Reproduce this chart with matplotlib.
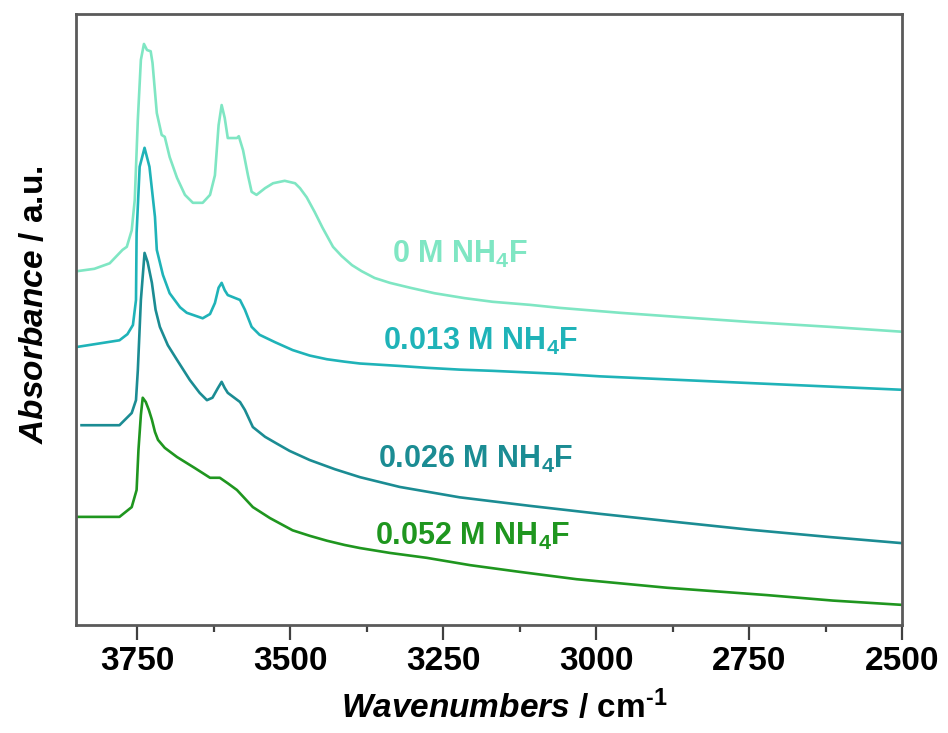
import numpy as np
import matplotlib
matplotlib.use('Agg')
import matplotlib.pyplot as plt
from matplotlib.ticker import MultipleLocator

matplotlib.rcParams['font.family'] = 'Liberation Sans'
matplotlib.rcParams['font.weight'] = 'bold'
matplotlib.rcParams['mathtext.fontset'] = 'custom'
matplotlib.rcParams['mathtext.rm'] = 'Liberation Sans:bold'
matplotlib.rcParams['mathtext.bf'] = 'Liberation Sans:bold'
matplotlib.rcParams['mathtext.it'] = 'Liberation Sans:italic:bold'
matplotlib.rcParams['mathtext.default'] = 'bf'

#---------------------------------------------------------------------------------------#
# spectra (wavenumber in cm-1, absorbance in a.u.)
wn_0 = [3849, 3820, 3795, 3774, 3767, 3759, 3754, 3749, 3744, 3739, 3734, 3728, 3725,
        3718, 3710, 3705, 3697, 3685, 3672, 3659, 3643, 3631, 3623, 3617, 3612, 3607,
        3602, 3587, 3584, 3577, 3569, 3563, 3555, 3541, 3528, 3509, 3492, 3484, 3473,
        3460, 3447, 3430, 3416, 3399, 3383, 3362, 3337, 3304, 3264, 3215, 3169, 3108,
        3059, 2961, 2863, 2749, 2618, 2500]
abs_0 = [0.579, 0.583, 0.592, 0.614, 0.619, 0.646, 0.696, 0.827, 0.925, 0.951, 0.941,
         0.939, 0.920, 0.838, 0.802, 0.799, 0.766, 0.732, 0.704, 0.691, 0.691, 0.704,
         0.736, 0.818, 0.851, 0.830, 0.797, 0.797, 0.800, 0.777, 0.736, 0.709, 0.704,
         0.715, 0.723, 0.727, 0.723, 0.715, 0.700, 0.676, 0.650, 0.619, 0.604, 0.589,
         0.579, 0.568, 0.560, 0.552, 0.543, 0.535, 0.529, 0.524, 0.519, 0.511, 0.504,
         0.496, 0.488, 0.480]

wn_013 = [3849, 3779, 3766, 3757, 3752, 3751, 3746, 3738, 3730, 3721, 3718, 3708, 3697,
          3680, 3669, 3643, 3631, 3623, 3617, 3612, 3607, 3602, 3582, 3574, 3563, 3550,
          3525, 3496, 3468, 3440, 3411, 3386, 3321, 3277, 3223, 3169, 3059, 2994, 2749,
          2500]
abs_013 = [0.455, 0.466, 0.476, 0.491, 0.532, 0.642, 0.750, 0.781, 0.750, 0.668, 0.614,
           0.573, 0.543, 0.520, 0.511, 0.502, 0.509, 0.527, 0.552, 0.560, 0.548, 0.540,
           0.532, 0.516, 0.488, 0.475, 0.463, 0.450, 0.441, 0.435, 0.431, 0.428, 0.424,
           0.421, 0.418, 0.416, 0.411, 0.407, 0.396, 0.385]

wn_026 = [3841, 3779, 3759, 3752, 3749, 3744, 3738, 3733, 3726, 3720, 3713, 3700, 3685,
          3664, 3648, 3636, 3627, 3618, 3612, 3607, 3602, 3582, 3574, 3561, 3541, 3522,
          3501, 3468, 3427, 3386, 3321, 3223, 3108, 2994, 2863, 2749, 2618, 2500]
abs_026 = [0.327, 0.327, 0.347, 0.368, 0.417, 0.532, 0.609, 0.594, 0.560, 0.516, 0.488,
           0.458, 0.434, 0.401, 0.380, 0.368, 0.372, 0.388, 0.398, 0.388, 0.380, 0.365,
           0.352, 0.324, 0.308, 0.297, 0.285, 0.270, 0.255, 0.242, 0.226, 0.209, 0.195,
           0.182, 0.168, 0.156, 0.144, 0.134]

wn_052 = [3849, 3779, 3759, 3751, 3748, 3744, 3741, 3736, 3731, 3726, 3721, 3716, 3705,
          3685, 3656, 3631, 3615, 3602, 3587, 3561, 3533, 3496, 3468, 3440, 3411, 3386,
          3337, 3277, 3206, 3125, 3032, 2884, 2721, 2613, 2500]
abs_052 = [0.177, 0.177, 0.193, 0.221, 0.286, 0.344, 0.372, 0.365, 0.352, 0.336, 0.316,
           0.303, 0.290, 0.275, 0.257, 0.241, 0.241, 0.232, 0.221, 0.193, 0.175, 0.155,
           0.146, 0.138, 0.131, 0.126, 0.118, 0.110, 0.098, 0.087, 0.075, 0.061, 0.049,
           0.040, 0.033]

labels = [r'0 M NH$_4$F', r'0.013 M NH$_4$F', r'0.026 M NH$_4$F', r'0.052 M NH$_4$F']
colors = ['#7fe6c3', '#1fb3b8', '#1b8c93', '#1f961f']
#---------------------------------------------------------------------------------------#
fig = plt.figure(figsize=(9.48, 7.33), dpi=100)
ax = fig.add_axes([0.0802, 0.1473, 0.8713, 0.8336])

spectra = [(wn_0, abs_0), (wn_013, abs_013), (wn_026, abs_026), (wn_052, abs_052)]
for (wn, ab), c in zip(spectra, colors):
	ax.plot(wn, ab, color=c, lw=1.9, solid_joinstyle='round')

# curve labels
label_pos = [(3334, 0.592), (3349, 0.450), (3357, 0.257), (3362, 0.131)]
for lab, (lx, ly), c in zip(labels, label_pos, colors):
	ax.text(lx, ly, lab, color=c, fontsize=22, fontweight='bold', ha='left', va='baseline')

ax.set_xlim(3850, 2500)
ax.set_ylim(0, 1)
ax.xaxis.set_major_locator(MultipleLocator(250))
ax.xaxis.set_minor_locator(MultipleLocator(125))
ax.set_yticks([])
ax.tick_params(axis='x', which='major', direction='out', length=11, width=1.6,
               color='#404040', labelsize=24, pad=4, top=False)
ax.tick_params(axis='x', which='minor', direction='out', length=5, width=1.6,
               color='#404040', top=False)
for lbl in ax.get_xticklabels():
	lbl.set_fontweight('bold')
for sp in ax.spines.values():
	sp.set_linewidth(2.0)
	sp.set_color('#5a5a5a')

ax.set_xlabel('$\\mathit{Wavenumbers}$ / cm$^{\u20101}$', fontsize=24, fontweight='bold')
ax.set_ylabel(r'$\mathit{Absorbance}$ / a.u.', fontsize=24, fontweight='bold')
ax.xaxis.set_label_coords(0.519, -0.105)
ax.yaxis.set_label_coords(-0.031, 0.525)

fig.savefig('out.png', dpi=100)
